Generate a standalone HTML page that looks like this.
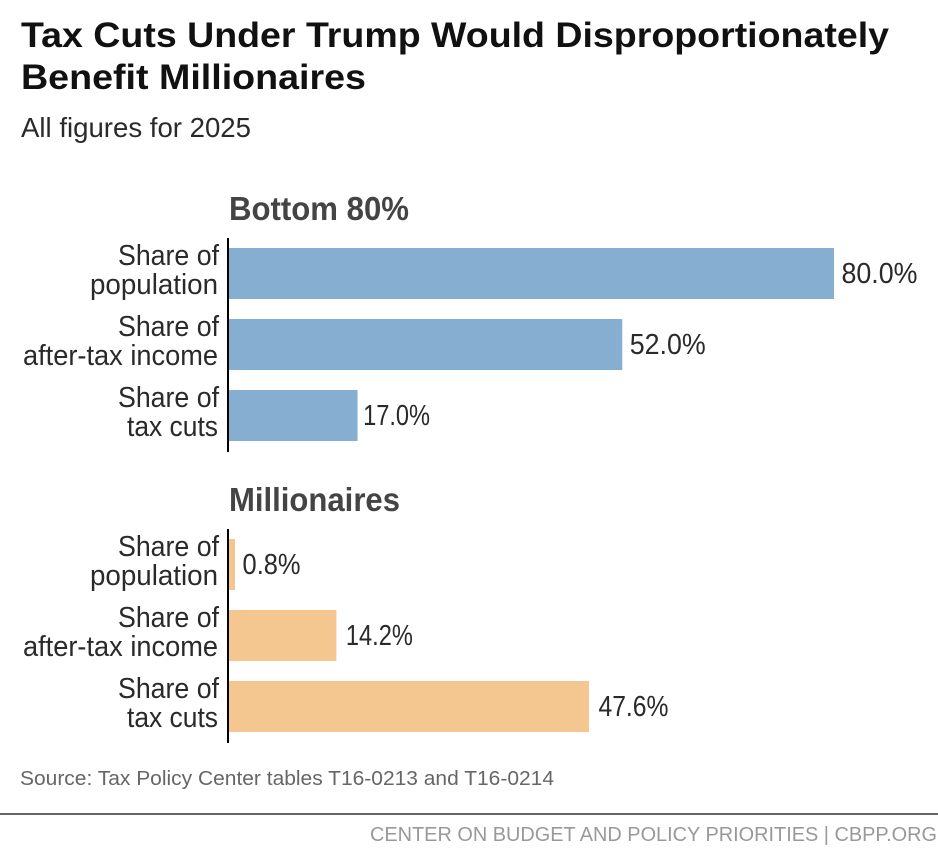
<!DOCTYPE html>
<html lang="en">
<head>
<meta charset="utf-8">
<title>Tax Cuts Under Trump Would Disproportionately Benefit Millionaires</title>
<style>
html,body{margin:0;padding:0;background:#fff}
svg{display:block;font-family:"Liberation Sans",sans-serif}
</style>
</head>
<body>
<svg id="chart" width="938" height="854" viewBox="0 0 938 854" xmlns="http://www.w3.org/2000/svg">
<rect width="938" height="854" fill="#fff"/>
<text x="21" y="47" font-size="35" font-weight="700" fill="#111" textLength="868" lengthAdjust="spacingAndGlyphs">Tax Cuts Under Trump Would Disproportionately</text>
<text x="21" y="89" font-size="35" font-weight="700" fill="#111" textLength="345" lengthAdjust="spacingAndGlyphs">Benefit Millionaires</text>
<text x="21" y="137" font-size="28" fill="#2a2a2a" textLength="230" lengthAdjust="spacingAndGlyphs">All figures for 2025</text>
<text x="20" y="785" font-size="20" fill="#666" textLength="534" lengthAdjust="spacingAndGlyphs">Source: Tax Policy Center tables T16-0213 and T16-0214</text>
<rect x="0" y="813" width="938" height="2" fill="#666"/>
<text x="370" y="841" font-size="20" fill="#999" textLength="567" lengthAdjust="spacingAndGlyphs">CENTER ON BUDGET AND POLICY PRIORITIES | CBPP.ORG</text>
</svg>
<script>
const categoryFirstLines = ["Share of", "Share of", "Share of"];
const bottomCategorySecondLines = ["population", "after-tax income", "tax cuts"];
const millionaireCategorySecondLines = ["population", "after-tax income", "tax cuts"];
const bottomValues = [80.0, 52.0, 17.0];
const millionaireValues = [0.8, 14.2, 47.6];
const groupTitles = ["Bottom 80%", "Millionaires"];

const svg = document.getElementById('chart');
const NS = 'http://www.w3.org/2000/svg';
const axisX = 229;
const unitWidth = 605 / 80;
const barHeight = 51;
const barStep = 71;
const xScale = v => axisX + v * unitWidth;

function labelWidth(text) {
  let w = 76 - (4 - text.replace('%', '').length) * 18;
  for (const ch of text) {
    if (ch === '1') w -= 6;
    if (ch === '4' || ch === '7') w -= 3;
  }
  return w;
}
function labelGap(text) {
  if (text.includes('4')) return 9.5;
  if (text.includes('7')) return 5.5;
  return 7.5;
}

function drawGroup(title, secondLines, values, color, top) {
  const heading = document.createElementNS(NS, 'text');
  
  
  heading.setAttribute('x', axisX);
  heading.setAttribute('y', top - 28);
  heading.setAttribute('font-size', '33');
  heading.setAttribute('font-weight', '700');
  heading.setAttribute('fill', '#444');
  heading.setAttribute('textLength', title === 'Bottom 80%' ? 180 : 171);
  heading.setAttribute('lengthAdjust', 'spacingAndGlyphs');
  heading.textContent = title;
  svg.appendChild(heading);

  const axis = document.createElementNS(NS, 'rect');
  
  
  axis.setAttribute('x', axisX - 2);
  axis.setAttribute('y', top - 10);
  axis.setAttribute('width', 2);
  axis.setAttribute('height', 214);
  axis.setAttribute('fill', '#000');
  svg.appendChild(axis);

  values.forEach((value, i) => {
    const y = top + i * barStep;

    const bar = document.createElementNS(NS, 'rect');
    
    
    bar.setAttribute('x', axisX);
    bar.setAttribute('y', y);
    bar.setAttribute('width', xScale(value) - axisX);
    bar.setAttribute('height', barHeight);
    bar.setAttribute('fill', color);
    svg.appendChild(bar);

    const line1 = document.createElementNS(NS, 'text');
    
    
    line1.setAttribute('x', 219);
    line1.setAttribute('y', y + 17);
    line1.setAttribute('font-size', '29');
    line1.setAttribute('text-anchor', 'end');
    line1.setAttribute('fill', '#2a2a2a');
    line1.setAttribute('textLength', 101);
    line1.setAttribute('lengthAdjust', 'spacingAndGlyphs');
    line1.textContent = categoryFirstLines[i];
    svg.appendChild(line1);

    const line2 = document.createElementNS(NS, 'text');
    
    
    line2.setAttribute('x', 218);
    line2.setAttribute('y', y + 46);
    line2.setAttribute('font-size', '29');
    line2.setAttribute('text-anchor', 'end');
    line2.setAttribute('fill', '#2a2a2a');
    line2.setAttribute('textLength', [128, 195, 91][i]);
    line2.setAttribute('lengthAdjust', 'spacingAndGlyphs');
    line2.textContent = secondLines[i];
    svg.appendChild(line2);

    const printed = value.toFixed(1) + '%';
    const valueLabel = document.createElementNS(NS, 'text');
    
    
    valueLabel.setAttribute('x', xScale(value) + labelGap(printed));
    valueLabel.setAttribute('y', y + 35);
    valueLabel.setAttribute('font-size', '29');
    valueLabel.setAttribute('fill', '#2a2a2a');
    valueLabel.setAttribute('textLength', labelWidth(printed));
    valueLabel.setAttribute('lengthAdjust', 'spacingAndGlyphs');
    valueLabel.textContent = printed;
    svg.appendChild(valueLabel);
  });
}

drawGroup(groupTitles[0], bottomCategorySecondLines, bottomValues, '#85aed1', 248);
drawGroup(groupTitles[1], millionaireCategorySecondLines, millionaireValues, '#f4c791', 539);
</script>
</body>
</html>
